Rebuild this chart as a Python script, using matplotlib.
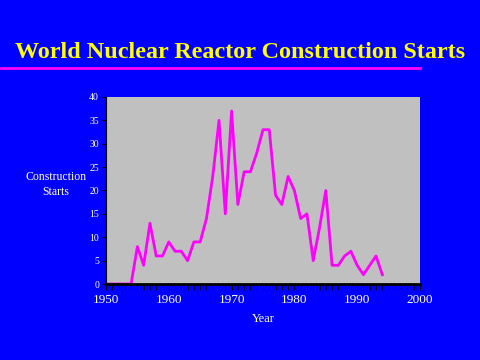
import matplotlib
matplotlib.use("Agg")
import matplotlib.pyplot as plt
from matplotlib.ticker import MultipleLocator

# construction starts per year
years = list(range(1950, 1995))
starts = [0, 0, 0, 0, 0, 8, 4, 13, 6, 6,
          9, 7, 7, 5, 9, 9, 14, 23, 35, 15,
          37, 17, 24, 24, 28, 33, 33, 19, 17, 23,
          20, 14, 15, 5, 12, 20, 4, 4, 6, 7,
          4, 2, 4, 6, 2]

fig = plt.figure(figsize=(4.8, 3.6), dpi=100, facecolor='#0000FF')
ax = fig.add_axes([0.2208, 0.2111, 0.6542, 0.5195])
ax.set_facecolor('#C0C0C0')

ax.plot(years, starts, color='#FF00FF', linewidth=2.0)

ax.set_xlim(1950, 2000)
ax.set_ylim(0, 40)
ax.xaxis.set_major_locator(MultipleLocator(10))
ax.xaxis.set_minor_locator(MultipleLocator(1))
ax.yaxis.set_major_locator(MultipleLocator(5))

for s in ['top', 'right']:
    ax.spines[s].set_visible(False)
ax.spines['left'].set_color('black')
ax.spines['bottom'].set_color('black')
ax.spines['bottom'].set_linewidth(2)

ax.tick_params(axis='y', direction='out', length=3, color='black',
               labelcolor='white', labelsize=7, pad=2)
ax.tick_params(axis='x', which='major', direction='out', length=4, color='black',
               labelcolor='white', labelsize=9.5, pad=3)
ax.tick_params(axis='x', which='minor', direction='out', length=4, color='black')
for lab in ax.get_xticklabels() + ax.get_yticklabels():
    lab.set_family('Liberation Serif')

ax.set_xlabel('Year', color='white', family='Liberation Serif', fontsize=9, labelpad=5)
fig.text(0.117, 0.4875, 'Construction\nStarts', color='white', family='Liberation Serif',
         fontsize=8.5, ha='center', va='center', linespacing=1.25)

fig.text(0.5, 0.853, 'World Nuclear Reactor Construction Starts', color='#FFFF00',
         family='Liberation Serif', fontweight='bold', fontsize=17.4,
         ha='center', va='center')
fig.add_artist(plt.Line2D([0.002, 0.875], [0.8125, 0.8125], color='#FF00FF',
                          linewidth=2, transform=fig.transFigure))

fig.savefig('out.png', dpi=100, facecolor=fig.get_facecolor())
